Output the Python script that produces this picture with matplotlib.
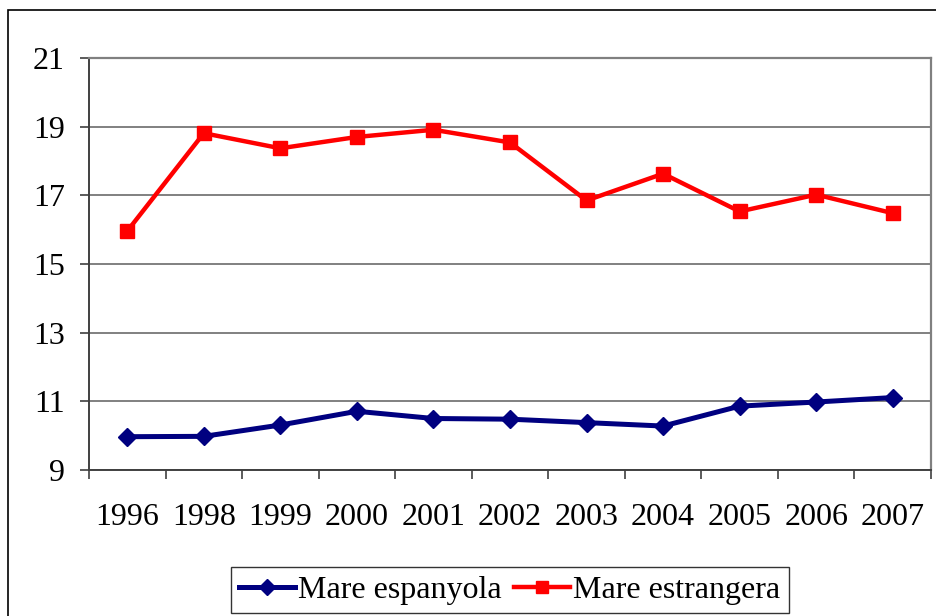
import numpy as np
import matplotlib
matplotlib.use("Agg")
import matplotlib.pyplot as plt
from matplotlib.patches import Rectangle

years = ['1996', '1998', '1999', '2000', '2001', '2002', '2003', '2004', '2005', '2006', '2007']
mare_espanyola = [9.97, 9.98, 10.31, 10.71, 10.50, 10.48, 10.38, 10.28, 10.86, 10.98, 11.11]
mare_estrangera = [15.96, 18.81, 18.37, 18.70, 18.91, 18.54, 16.85, 17.63, 16.53, 17.02, 16.48]
y_ticks = [9, 11, 13, 15, 17, 19, 21]

plt.rcParams['font.family'] = ['Liberation Serif', 'DejaVu Serif']

fig = plt.figure(figsize=(9.37, 6.16), dpi=100)
ax = fig.add_axes([89 / 937, 146 / 616, 842 / 937, 412 / 616])

# outer chart border (cut off on the right and bottom)
fig.patches.append(Rectangle((8 / 937, -0.1), 1.2, 1.1 - 10 / 616,
                             transform=fig.transFigure, fill=False,
                             edgecolor='black', linewidth=1.2))

index = np.arange(len(years))
ax.plot(index, mare_espanyola, color='#000080', linewidth=3.6, marker='D',
        markersize=9.5, label='Mare espanyola')
ax.plot(index, mare_estrangera, color='#FF0000', linewidth=3.2, marker='s',
        markersize=10, label='Mare estrangera')

ax.set_xlim(-0.5, len(years) - 0.5)
ax.set_ylim(9, 21)
ax.set_yticks(y_ticks)
ax.yaxis.grid(True, color='#808080', linewidth=1.4)
ax.set_axisbelow(True)

# ticks between categories, labels centred on them
ax.set_xticks(np.arange(len(years) + 1) - 0.5)
ax.set_xticklabels([])
ax.set_xticks(index, minor=True)
ax.set_xticklabels(years, minor=True)
ax.tick_params(axis='x', which='major', length=6.5, width=1.2, color='#404040')
ax.tick_params(axis='x', which='minor', length=0, pad=24, labelsize=23)
ax.tick_params(axis='y', length=6.5, width=1.2, color='#404040', pad=11, labelsize=23)

for side in ['top', 'right']:
    ax.spines[side].set_color('#808080')
    ax.spines[side].set_linewidth(1.6)
for side in ['left', 'bottom']:
    ax.spines[side].set_color('#404040')
    ax.spines[side].set_linewidth(1.4)

leg = fig.legend(loc='center', bbox_to_anchor=(0.544, 0.042), ncol=2,
                 fontsize=23, frameon=True, fancybox=False, edgecolor='black',
                 handlelength=1.75, handletextpad=0.1, columnspacing=0.4,
                 borderpad=0.25, borderaxespad=0, markerscale=0.9)
leg.get_frame().set_linewidth(1.0)

fig.savefig('out.png', dpi=100)
